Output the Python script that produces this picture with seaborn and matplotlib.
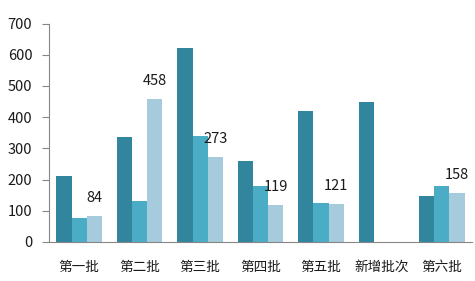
import numpy as np
import pandas as pd
import matplotlib
matplotlib.use("Agg")
import matplotlib.pyplot as plt
import seaborn as sns

categories = ["第一批", "第二批", "第三批", "第四批", "第五批", "新增批次", "第六批"]
series_names = ["A", "B", "C"]
series_a = [211, 336, 621, 259, 420, 449, 147]
series_b = [76, 131, 339, 178, 125, 0, 179]
series_c = [84, 458, 273, 119, 121, 0, 158]
colors = ["#31869E", "#4BACC6", "#A6CBDC"]
yticks = [0, 100, 200, 300, 400, 500, 600, 700]

rows = []
for name, vals in zip(series_names, [series_a, series_b, series_c]):
    for c, v in zip(categories, vals):
        rows.append({"cat": c, "series": name, "value": v})
df = pd.DataFrame(rows)

sns.set_theme(style="white")
plt.rcParams["font.family"] = ["Noto Sans CJK SC", "DejaVu Sans"]

fig = plt.figure(figsize=(4.75, 2.81), dpi=100)
ax = fig.add_axes([0.103, 0.139, 0.891, 0.777])
sns.barplot(data=df, x="cat", y="value", hue="series", order=categories,
            hue_order=series_names, palette=colors, width=0.75, gap=0,
            saturation=1, errorbar=None, legend=False, ax=ax, linewidth=0)

labels = [str(v) if v else "" for v in series_c]
ax.bar_label(ax.containers[2], labels=labels, padding=8, fontsize=10.5, color="#1a1a1a")

ax.set_ylim(0, 700)
ax.set_xlim(-0.5, 6.5)
ax.set_yticks(yticks)
ax.set_yticklabels([str(t) for t in yticks], fontsize=10.5, color="#1a1a1a")
ax.set_xlabel("")
ax.set_ylabel("")
ax.set_xticks(range(len(categories)))
ax.set_xticklabels(categories, fontsize=9.8, color="#1a1a1a")
ax.tick_params(axis="x", which="major", length=0, pad=13)
ax.set_xticks(np.arange(-0.5, 7.0, 1.0), minor=True)
ax.tick_params(axis="x", which="minor", length=4, color="#868686", width=0.8, direction="out")
ax.tick_params(axis="y", length=5, color="#868686", width=0.8, direction="out", pad=7, left=True)
for s in ["top", "right"]:
    ax.spines[s].set_visible(False)
for s in ["left", "bottom"]:
    ax.spines[s].set_color("#868686")
    ax.spines[s].set_linewidth(0.8)

fig.savefig("out.png", dpi=100)
